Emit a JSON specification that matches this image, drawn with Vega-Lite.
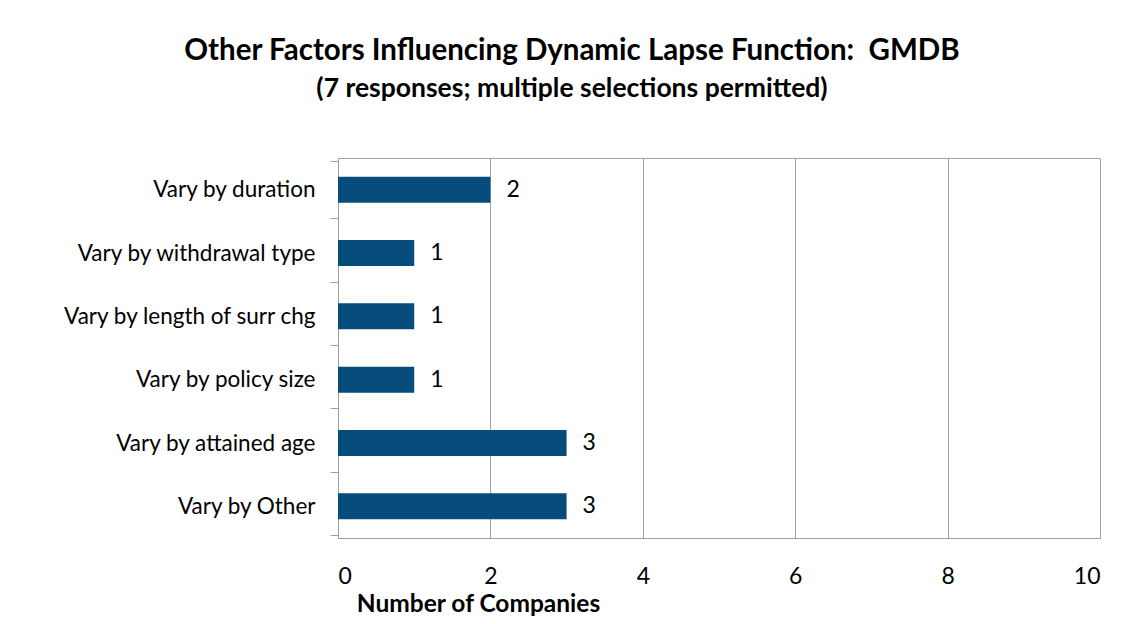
{
  "$schema": "https://vega.github.io/schema/vega-lite/v6.json",
  "autosize": {"type": "none"},
  "width": 762,
  "height": 380,
  "padding": {"left": 338, "top": 158, "right": 23, "bottom": 86},
  "background": "white",
  "title": {
    "text": "Other Factors Influencing Dynamic Lapse Function: \u00a0GMDB",
    "subtitle": "(7 responses; multiple selections permitted)",
    "anchor": "middle",
    "frame": "group",
    "dx": -147,
    "offset": 44,
    "font": "Lato",
    "fontSize": 29.5,
    "fontWeight": "bold",
    "color": "black",
    "subtitleFont": "Lato",
    "subtitleFontSize": 26.5,
    "subtitleFontWeight": "bold",
    "subtitleColor": "black",
    "subtitlePadding": 9
  },
  "data": {
    "values": [
      {"factor": "Vary by duration", "count": 2},
      {"factor": "Vary by withdrawal type", "count": 1},
      {"factor": "Vary by length of surr chg", "count": 1},
      {"factor": "Vary by policy size", "count": 1},
      {"factor": "Vary by attained age", "count": 3},
      {"factor": "Vary by Other", "count": 3}
    ]
  },
  "encoding": {
    "y": {
      "field": "factor",
      "type": "nominal",
      "sort": null,
      "title": null,
      "axis": {
        "tickBand": "extent",
        "tickSize": 8,
        "tickColor": "#a0a0a0",
        "domainColor": "#a0a0a0",
        "labelFont": "Lato",
        "labelFontSize": 22.5,
        "labelColor": "black",
        "labelPadding": 15,
        "labelLimit": 0,
        "grid": false
      }
    },
    "x": {
      "field": "count",
      "type": "quantitative",
      "scale": {"domain": [0, 10]},
      "title": "Number of Companies",
      "axis": {
        "values": [0, 2, 4, 6, 8, 10],
        "ticks": false,
        "grid": true,
        "gridColor": "#a0a0a0",
        "domainColor": "#a0a0a0",
        "labelFont": "Lato",
        "labelFontSize": 23,
        "labelColor": "black",
        "labelPadding": 27,
        "titleFont": "Lato",
        "titleFontSize": 24.5,
        "titleFontWeight": "bold",
        "titleColor": "black",
        "titleX": 140,
        "titleY": 66,
        "titleAlign": "center",
        "titleBaseline": "middle"
      }
    }
  },
  "layer": [
    {"mark": {"type": "bar", "color": "#074d7b", "size": 26}},
    {
      "mark": {"type": "text", "align": "left", "baseline": "middle", "dx": 16, "font": "Lato", "fontSize": 23, "color": "black"},
      "encoding": {"text": {"field": "count", "type": "quantitative"}}
    }
  ],
  "config": {
    "view": {"stroke": "#a0a0a0"}
  }
}
